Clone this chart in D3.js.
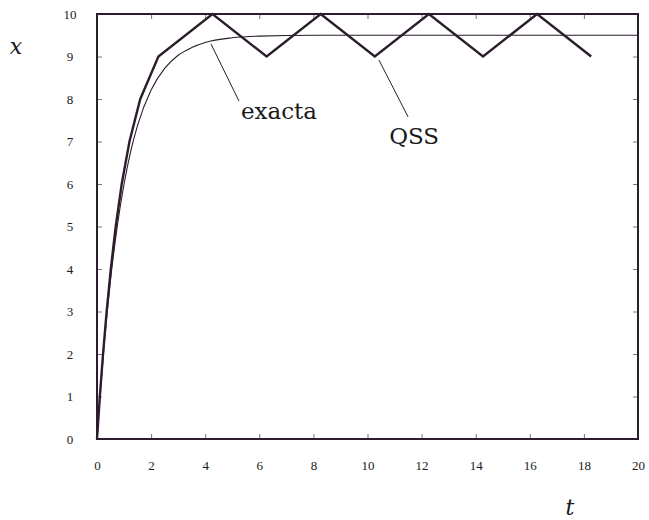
<!DOCTYPE html>
<html>
<head>
<meta charset="utf-8">
<script src="https://cdn.jsdelivr.net/npm/d3@7"></script>
<style>
  body { margin: 0; background: #fff; }
  text { font-family: "DejaVu Serif", serif; fill: #1a1a1a; }
</style>
</head>
<body>
<div id="chart"></div>
<script>
// QSS trajectory (breakpoints)
const qssT = [0, 0.105, 0.223, 0.356, 0.51, 0.692, 0.914, 1.2, 1.6, 2.27, 4.27, 6.27, 8.27, 10.27, 12.27, 14.27, 16.27, 18.27];
const qssX = [0, 1, 2, 3, 4, 5, 6, 7, 8, 9, 10, 9, 10, 9, 10, 9, 10, 9];

// exact solution
const exactT = [0, 0.1, 0.25, 0.5, 0.75, 1, 1.25, 1.5, 2, 2.5, 3, 3.5, 4, 5, 6, 8, 10, 20];
const exactX = [0, 0.9, 2.1, 3.74, 5.01, 6.0, 6.78, 7.38, 8.21, 8.72, 9.03, 9.21, 9.33, 9.44, 9.48, 9.5, 9.5, 9.5];

const xTicks = [0, 2, 4, 6, 8, 10, 12, 14, 16, 18, 20];
const yTicks = [0, 1, 2, 3, 4, 5, 6, 7, 8, 9, 10];

const W = 649, H = 520;
const m = { left: 97, right: 638, top: 14, bottom: 439 };
const ink = "#2b1d2b";

const svg = d3.select("#chart").append("svg")
  .attr("width", W)
  .attr("height", H);

const x = d3.scaleLinear().domain([0, 20]).range([m.left, m.right]);
const y = d3.scaleLinear().domain([0, 10]).range([m.bottom, m.top]);

function styleAxis(g, labels) {
  g.select(".domain").remove();
  g.selectAll(".tick line").attr("stroke", "#777").attr("stroke-width", 1);
  if (!labels) g.selectAll(".tick text").remove();
  else g.selectAll(".tick text")
    .style("font-family", "Liberation Serif, serif")
    .style("font-size", "13px")
    .attr("fill", "#1a1a1a");
}

// inward ticks on all four sides
const gx = svg.append("g").attr("transform", `translate(0,${m.bottom})`)
  .call(d3.axisBottom(x).tickValues(xTicks).tickSize(-5));
styleAxis(gx, true);
gx.selectAll(".tick text").attr("y", 22);

const gxTop = svg.append("g").attr("transform", `translate(0,${m.top})`)
  .call(d3.axisTop(x).tickValues(xTicks).tickSize(-5));
styleAxis(gxTop, false);

const gy = svg.append("g").attr("transform", `translate(${m.left},0)`)
  .call(d3.axisLeft(y).tickValues(yTicks).tickSize(-5));
styleAxis(gy, true);
gy.selectAll(".tick text").attr("x", -27).attr("text-anchor", "middle");

const gyRight = svg.append("g").attr("transform", `translate(${m.right},0)`)
  .call(d3.axisRight(y).tickValues(yTicks).tickSize(-5));
styleAxis(gyRight, false);

// frame
svg.append("rect")
  .attr("x", m.left).attr("y", m.top)
  .attr("width", m.right - m.left).attr("height", m.bottom - m.top)
  .attr("fill", "none")
  .attr("stroke", ink)
  .attr("stroke-width", 2);

// exact curve
const exact = exactT.map((t, i) => [t, exactX[i]]);
svg.append("path")
  .datum(exact)
  .attr("fill", "none")
  .attr("stroke", ink)
  .attr("stroke-width", 1.1)
  .attr("d", d3.line().x(d => x(d[0])).y(d => y(d[1])).curve(d3.curveMonotoneX));

// QSS trajectory
const qss = qssT.map((t, i) => [t, qssX[i]]);
svg.append("path")
  .datum(qss)
  .attr("fill", "none")
  .attr("stroke", ink)
  .attr("stroke-width", 2.4)
  .attr("d", d3.line().x(d => x(d[0])).y(d => y(d[1])));

// annotations
const notes = [
  { label: "exacta", from: [4.21, 9.3], to: [5.25, 7.95], at: [5.32, 7.52] },
  { label: "QSS", from: [10.42, 8.92], to: [11.5, 7.58], at: [10.8, 6.95] }
];
notes.forEach(n => {
  svg.append("line")
    .attr("x1", x(n.from[0])).attr("y1", y(n.from[1]))
    .attr("x2", x(n.to[0])).attr("y2", y(n.to[1]))
    .attr("stroke", ink).attr("stroke-width", 1);
  svg.append("text")
    .attr("x", x(n.at[0])).attr("y", y(n.at[1]))
    .style("font-size", "23px")
    .text(n.label);
});

// axis names
svg.append("text").attr("x", 16).attr("y", 54)
  .attr("text-anchor", "middle")
  .style("font-size", "22px").style("font-style", "italic")
  .text("x");
svg.append("text").attr("x", 570).attr("y", 515)
  .attr("text-anchor", "middle")
  .style("font-size", "22px").style("font-style", "italic")
  .text("t");
</script>
</body>
</html>
